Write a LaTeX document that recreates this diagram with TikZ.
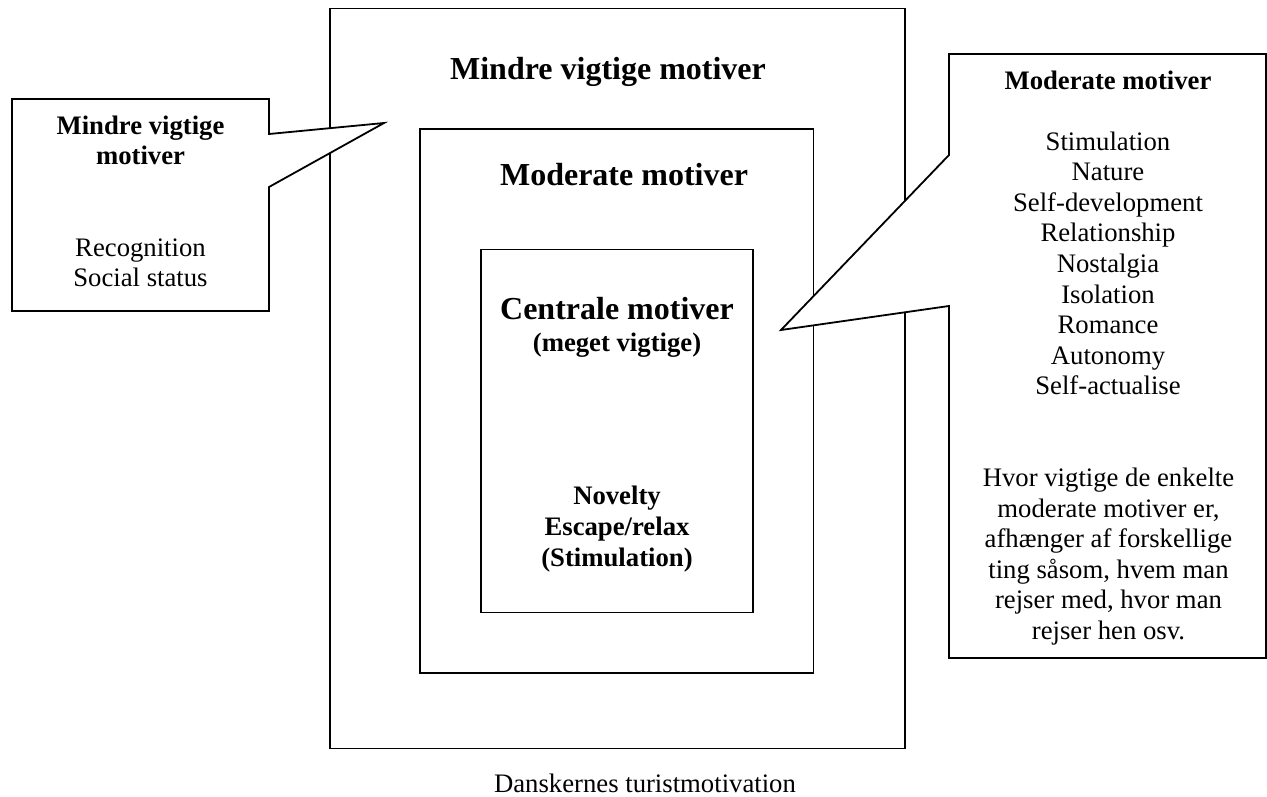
\documentclass[tikz,border=0pt]{standalone}
\usepackage{fontspec}
\setmainfont{Liberation Serif}
\begin{document}
\begin{tikzpicture}[x=1pt, y=-1pt,
  frame/.style={draw, line width=1.8pt, inner sep=0pt},
  callout/.style={draw, line width=1.8pt, fill=white, line join=miter},
  txt/.style={anchor=base, inner sep=0pt, font=\fontsize{26.7}{30.6}\selectfont},
  btxt/.style={anchor=base, inner sep=0pt, font=\fontsize{26.7}{30.6}\selectfont\bfseries},
  title/.style={anchor=base, inner sep=0pt, font=\fontsize{32}{38}\selectfont\bfseries}]
\useasboundingbox (0,0) rectangle (1267,796);

% nested motive levels
\node[frame, minimum width=575pt, minimum height=740pt] (outer) at (617.5,378.5) {};
\node[frame, minimum width=393.5pt, minimum height=544pt] (middle) at (616.75,401) {};
\node[frame, minimum width=272pt, minimum height=363pt] (inner) at (617,431) {};

% left speech bubble
\coordinate (ltip) at (384,123);
\draw[callout] (12,99) -- (269,99) -- (269,134) -- (ltip) -- (269,187)
  -- (269,311) -- (12,311) -- cycle;

% right speech bubble
\coordinate (rtip) at (781,330);
\draw[callout] (949,54) -- (1266,54) -- (1266,658) -- (949,658) -- (949,306)
  -- (rtip) -- (949,155) -- cycle;

% level titles
\node[title] (t1) at (608,79.5) {Mindre vigtige motiver};
\node[title] (t2) at (624,185) {Moderate motiver};
\node[title] (t3) at (617,319.5) {Centrale motiver};
\node[btxt] (t3b) at (617,351) {(meget vigtige)};
\foreach \t [count=\i] in {Novelty, Escape/relax, (Stimulation)}
  \node[btxt] (c\i) at (617,{504.5+31*(\i-1)}) {\t};

% left bubble text
\node[btxt] (l1) at (140.5,134.5) {Mindre vigtige};
\node[btxt] (l2) at (140.5,164.5) {motiver};
\node[txt] (l3) at (140.5,256) {Recognition};
\node[txt] (l4) at (140.5,286.5) {Social status};

% right bubble text
\node[btxt] (r0) at (1108,89) {Moderate motiver};
\foreach \t [count=\i] in {Stimulation, Nature, Self-development, Relationship,
    Nostalgia, Isolation, Romance, Autonomy, Self-actualise}
  \node[txt] (m\i) at (1108,{150+30.6*(\i-1)}) {\t};
\foreach \t [count=\i] in {Hvor vigtige de enkelte, {moderate motiver er,},
    afhænger af forskellige, {ting såsom, hvem man}, {rejser med, hvor man},
    rejser hen osv.}
  \node[txt] (p\i) at (1108.5,{486.5+30.6*(\i-1)}) {\t};

% caption
\node[txt] (cap) at (645,792) {Danskernes turistmotivation};
\end{tikzpicture}
\end{document}
